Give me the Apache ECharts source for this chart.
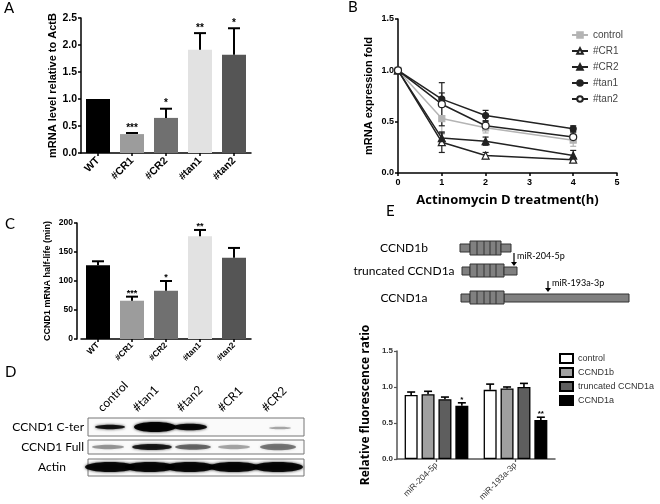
<!DOCTYPE html>
<html><head><meta charset="utf-8">
<script src="https://cdn.jsdelivr.net/npm/echarts/dist/echarts.min.js"></script>
<style>html,body{margin:0;padding:0;background:#fff}#c{width:660px;height:504px}</style>
</head><body><div id="c"></div>
<script>
// ---- Panel A ----
const aCats = ['WT','#CR1','#CR2','#tan1','#tan2'];
const aValues = [1.0, 0.35, 0.65, 1.91, 1.82];
const aErrors = [0, 0.02, 0.17, 0.31, 0.49];
const aStars = ['', '***', '*', '**', '*'];
const barColors = ['#000000', '#9c9c9c', '#707070', '#e2e2e2', '#555555'];

// ---- Panel B ----
const bTimes = [0, 1, 2, 4];
const bNames = ['control', '#CR1', '#CR2', '#tan1', '#tan2'];
const bControl = [1.0, 0.53, 0.44, 0.32];
const bCR1 = [1.0, 0.30, 0.17, 0.13];
const bCR2 = [1.0, 0.34, 0.31, 0.17];
const bTan1 = [1.0, 0.72, 0.56, 0.43];
const bTan2 = [1.0, 0.67, 0.46, 0.35];
const bControlErr = [0, 0.15, 0.05, 0.06];
const bCR1Err = [0, 0.10, 0.03, 0.02];
const bCR2Err = [0, 0.05, 0.04, 0.05];
const bTan1Err = [0, 0.06, 0.05, 0.03];
const bTan2Err = [0, 0.21, 0.04, 0.05];

// ---- Panel C ----
const cCats = ['WT','#CR1','#CR2','#tan1','#tan2'];
const cValues = [127, 66, 83, 177, 140];
const cErrors = [7, 7, 17, 11, 17];
const cStars = ['', '***', '*', '**', ''];

// ---- Panel D ----
const dLanes = ['control', '#tan1', '#tan2', '#CR1', '#CR2'];
const dRows = ['CCND1 C-ter', 'CCND1 Full', 'Actin'];

// ---- Panel E ----
const eGroups = ['miR-204-5p', 'miR-193a-3p'];
const eNames = ['control ', 'CCND1b', 'truncated CCND1a', 'CCND1a'];
const eControl = [0.89, 0.96];
const eCCND1b = [0.90, 0.98];
const eTruncated = [0.83, 1.00];
const eCCND1a = [0.74, 0.54];
const eControlErr = [0.04, 0.08];
const eCCND1bErr = [0.04, 0.02];
const eTruncatedErr = [0.03, 0.05];
const eCCND1aErr = [0.04, 0.04];
const eCCND1aStars = ['*', '**'];
const eConstructs = ['CCND1b', 'truncated CCND1a', 'CCND1a'];

const AR = 'Liberation Sans';
const CAL = 'Lato';

function axisBase(extra){
  return Object.assign({
    axisLine:{show:true, lineStyle:{color:'#000', width:1.5}},
    axisTick:{show:true, length:3, lineStyle:{color:'#000', width:1.5}},
    splitLine:{show:false}
  }, extra);
}
function lbl(size, extra){
  return Object.assign({fontFamily:AR, fontWeight:'bold', fontSize:size, color:'#000'}, extra||{});
}

function barErr(vals, errs, stars, o){
  return function(params, api){
    const i = params.dataIndex;
    const x = api.value(0);
    const b = api.coord([x, vals[i]]);
    const t = api.coord([x, vals[i] + errs[i]]);
    const cx = b[0] + (o.off || 0);
    const ch = [];
    if (errs[i] > 0) {
      ch.push({type:'line', shape:{x1:cx, y1:b[1], x2:cx, y2:t[1]}, style:{stroke:'#000', lineWidth:o.lw}});
      ch.push({type:'line', shape:{x1:cx - o.cap, y1:t[1], x2:cx + o.cap, y2:t[1]}, style:{stroke:'#000', lineWidth:o.lw}});
    }
    if (stars && stars[i]) {
      ch.push({type:'text', style:{text:stars[i], x:cx, y:t[1] + o.sg, align:'center', verticalAlign:'bottom',
        fill:'#000', font:'bold ' + o.fs + 'px "' + AR + '"'}});
    }
    return {type:'group', children:ch};
  };
}

const bSeriesVals = [bControl, bCR1, bCR2, bTan1, bTan2];
const bSeriesErrs = [bControlErr, bCR1Err, bCR2Err, bTan1Err, bTan2Err];
const bColors = ['#b4b4b4', '#222', '#222', '#222', '#222'];
const bSymbols = ['rect', 'triangle', 'triangle', 'circle', 'circle'];
const bFill = ['#b4b4b4', '#fff', '#222', '#222', '#fff'];
const bSizes = [6, 7, 7, 6, 7];

const series = [];
// A
series.push({type:'bar', xAxisIndex:0, yAxisIndex:0, barWidth:24,
  data: aValues.map((v,i)=>({value:v, itemStyle:{color:barColors[i]}}))});
series.push({type:'custom', xAxisIndex:0, yAxisIndex:0, z:5,
  data: aValues.map((v,i)=>[i, v]),
  renderItem: barErr(aValues, aErrors, aStars, {lw:2, cap:6, sg:0, fs:10})});
// B
bNames.forEach((n, k) => {
  series.push({type:'line', name:n, xAxisIndex:1, yAxisIndex:1, z:3,
    data: bTimes.map((t,i)=>[t, bSeriesVals[k][i]]),
    symbol: bSymbols[k], symbolSize: bSizes[k],
    lineStyle:{color:bColors[k], width:1.5},
    itemStyle:{color:bFill[k], borderColor:bColors[k], borderWidth:1.2}});
  series.push({type:'custom', xAxisIndex:1, yAxisIndex:1, z:2,
    data: bTimes.map((t,i)=>[t, bSeriesVals[k][i]]),
    renderItem: function(params, api){
      const i = params.dataIndex;
      const e = bSeriesErrs[k][i];
      if (!e) return null;
      const v = bSeriesVals[k][i];
      const hi = api.coord([api.value(0), v + e]);
      const lo = api.coord([api.value(0), v - e]);
      const st = {stroke:bColors[k], lineWidth:1.2};
      return {type:'group', children:[
        {type:'line', shape:{x1:hi[0], y1:hi[1], x2:lo[0], y2:lo[1]}, style:st},
        {type:'line', shape:{x1:hi[0]-3, y1:hi[1], x2:hi[0]+3, y2:hi[1]}, style:st},
        {type:'line', shape:{x1:lo[0]-3, y1:lo[1], x2:lo[0]+3, y2:lo[1]}, style:st}
      ]};
    }});
});
// C
series.push({type:'bar', xAxisIndex:2, yAxisIndex:2, barWidth:24,
  data: cValues.map((v,i)=>({value:v, itemStyle:{color:barColors[i]}}))});
series.push({type:'custom', xAxisIndex:2, yAxisIndex:2, z:5,
  data: cValues.map((v,i)=>[i, v]),
  renderItem: barErr(cValues, cErrors, cStars, {lw:2, cap:6, sg:1, fs:9})});
// E
const eVals = [eControl, eCCND1b, eTruncated, eCCND1a];
const eErrs = [eControlErr, eCCND1bErr, eTruncatedErr, eCCND1aErr];
const eColors = ['#ffffff', '#a0a0a0', '#5e5e5e', '#000000'];
eNames.forEach((n, k) => {
  series.push({type:'bar', name:n, xAxisIndex:3, yAxisIndex:3, barWidth:13, barGap:'30%',
    data: eVals[k], itemStyle:{color:eColors[k], borderColor:'#000', borderWidth:1.3}});
});
eNames.forEach((n, k) => {
  series.push({type:'custom', xAxisIndex:3, yAxisIndex:3, z:5,
    data: eVals[k].map((v,i)=>[i, v]),
    renderItem: barErr(eVals[k], eErrs[k], k === 3 ? eCCND1aStars : null, {lw:1.6, cap:4, sg:1, fs:8, off:(k - 1.5) * 16.9})});
});

// ---- graphic elements (panel letters, blot, construct diagrams) ----
const g = [];
function txt(t, x, y, font, extra){
  g.push({type:'text', x:x, y:y, style:Object.assign({text:t, font:font, fill:'#000'}, extra||{})});
}
txt('A', 4, 1, '15px "' + CAL + '"');
txt('B', 348, 0, '15px "' + CAL + '"');
txt('C', 5, 217, '15px "' + CAL + '"');
txt('D', 5, 365, '15px "' + CAL + '"');
txt('E', 386, 204, '15px "' + CAL + '"');

const laneX = [104, 139, 183, 224, 268];
dLanes.forEach((l, i) => {
  g.push({type:'text', x:laneX[i], y:414, rotation:Math.PI/4,
    style:{text:l, font:'12px "' + CAL + '"', fill:'#000', align:'left', verticalAlign:'bottom'}});
});
const rowY = [427, 447, 467];
dRows.forEach((r, i) => {
  g.push({type:'text', x: i < 2 ? 84 : 52, y:rowY[i],
    style:{text:r, font:'12px "' + CAL + '"', fill:'#000', align: i < 2 ? 'right' : 'center', verticalAlign:'middle'}});
});
[[418,18],[440,14],[459,17]].forEach(b => {
  g.push({type:'rect', shape:{x:88, y:b[0], width:216, height:b[1]}, style:{fill:'#fafafa', stroke:'#777', lineWidth:1}});
});
function band(cx, cy, rx, ry, op){
  g.push({type:'ellipse', shape:{cx:cx, cy:cy, rx:rx, ry:ry},
    style:{fill:'#000', opacity:op, shadowBlur:3, shadowColor:'rgba(0,0,0,' + op + ')'}});
}
band(110, 427, 15, 2.2, 0.85);
band(155, 427, 21, 5, 0.95);
band(190, 427, 17, 3.3, 0.9);
band(280, 428, 11, 1.3, 0.3);
band(108, 447, 16, 2.2, 0.35);
band(152, 447, 20, 3, 0.8);
band(193, 447, 18, 2.8, 0.5);
band(234, 447, 16, 2.2, 0.3);
band(278, 447, 18, 3.2, 0.45);
[110, 150, 190, 234, 278].forEach(cx => band(cx, 467, 25, 5, 0.9));

const diaY = [248, 271, 298];
eConstructs.forEach((c, i) => {
  g.push({type:'text', x:404, y:diaY[i], style:{text:c, font:'12px "' + CAL + '"', fill:'#000', align:'center', verticalAlign:'middle'}});
});
function box(x, y, w, h){
  g.push({type:'rect', shape:{x:x, y:y, width:w, height:h}, style:{fill:'#808080', stroke:'#333', lineWidth:1}});
}
function exon(x, y, w, h){
  box(x, y, w, h);
  [7, 14, 20, 26].forEach(d => g.push({type:'line', shape:{x1:x+d, y1:y, x2:x+d, y2:y+h}, style:{stroke:'#333', lineWidth:1}}));
}
box(460, 244, 10, 8); exon(470, 241, 31, 14); box(501, 244, 10, 8);
box(462, 267, 8, 8); exon(470, 264, 34, 13); box(504, 267, 13, 8);
box(461, 294, 9, 8); box(504, 294, 125, 8); exon(470, 291, 34, 13);
function arrow(x, y1, y2){
  g.push({type:'line', shape:{x1:x, y1:y1, x2:x, y2:y2 - 3}, style:{stroke:'#000', lineWidth:1.2}});
  g.push({type:'polygon', shape:{points:[[x-3, y2-4],[x+3, y2-4],[x, y2]]}, style:{fill:'#000'}});
}
arrow(514, 253, 266);
arrow(548, 281, 292);
txt('miR-204-5p', 517, 252, '9px "' + CAL + '"');
txt('miR-193a-3p', 552, 279, '9px "' + CAL + '"');

const option = {
  animation:false,
  backgroundColor:'#fff',
  grid:[
    {left:81, top:18, width:170, height:135},
    {left:398, top:19, width:219, height:154},
    {left:81, top:223, width:170, height:116},
    {left:397, top:351, width:158, height:108}
  ],
  xAxis:[
    axisBase({type:'category', gridIndex:0, data:aCats, axisTick:{show:true, alignWithLabel:true, length:3, lineStyle:{color:'#000', width:1.5}},
      axisLabel:lbl(10.5, {rotate:45, margin:6})}),
    axisBase({type:'value', gridIndex:1, min:0, max:5, interval:1, axisLabel:lbl(9, {margin:5}),
      name:'Actinomycin D treatment(h)', nameLocation:'middle', nameGap:21,
      nameTextStyle:{fontFamily:'Open Sans', fontWeight:'bold', fontSize:13, color:'#000'}}),
    axisBase({type:'category', gridIndex:2, data:cCats, axisTick:{show:true, alignWithLabel:true, length:3, lineStyle:{color:'#000', width:1.5}},
      axisLabel:lbl(8.5, {rotate:45, margin:5})}),
    axisBase({type:'category', gridIndex:3, data:eGroups, axisTick:{show:true, alignWithLabel:true, length:3, lineStyle:{color:'#555', width:1.2}},
      axisLine:{show:true, lineStyle:{color:'#555', width:1.5}},
      axisLabel:{rotate:45, margin:5, fontFamily:AR, fontSize:8.5, color:'#333'}})
  ],
  yAxis:[
    axisBase({type:'value', gridIndex:0, min:0, max:2.5, interval:0.5,
      axisLabel:lbl(10.5, {margin:4, formatter:v=>v.toFixed(1)}),
      name:'mRNA level relative to ActB', nameLocation:'middle', nameGap:21, nameRotate:90,
      nameTextStyle:{fontFamily:AR, fontWeight:'bold', fontSize:11, color:'#000'}}),
    axisBase({type:'value', gridIndex:1, min:0, max:1.5, interval:0.5,
      axisLabel:lbl(9, {margin:4, formatter:v=>v.toFixed(1)}),
      name:'mRNA expression fold', nameLocation:'middle', nameGap:24, nameRotate:90,
      nameTextStyle:{fontFamily:AR, fontWeight:'bold', fontSize:11, color:'#000'}}),
    axisBase({type:'value', gridIndex:2, min:0, max:200, interval:50, offset:4,
      axisLabel:lbl(8.5, {margin:4}),
      name:'CCND1 mRNA half-life (min)', nameLocation:'middle', nameGap:25, nameRotate:90,
      nameTextStyle:{fontFamily:AR, fontWeight:'bold', fontSize:9, color:'#000'}}),
    axisBase({type:'value', gridIndex:3, min:0, max:1.5, interval:0.5,
      axisLine:{show:true, lineStyle:{color:'#555', width:1.5}},
      axisTick:{show:true, length:3, lineStyle:{color:'#555', width:1.2}},
      axisLabel:lbl(8, {margin:4, color:'#333', formatter:v=>v.toFixed(1)}),
      name:'Relative fluorescence ratio', nameLocation:'middle', nameGap:25, nameRotate:90,
      nameTextStyle:{fontFamily:'Open Sans', fontWeight:'bold', fontSize:12, color:'#000'}})
  ],
  legend:[
    {data:bNames, orient:'vertical', left:566, top:25, itemWidth:16, itemHeight:7, itemGap:6,
      textStyle:{fontFamily:AR, fontSize:10, color:'#444'}},
    {data:eNames, orient:'vertical', left:559, top:353, itemWidth:13, itemHeight:9, itemGap:3, icon:'rect',
      padding:0, textStyle:{fontFamily:AR, fontSize:9, color:'#333'}}
  ],
  series: series,
  graphic: g
};
const chart = echarts.init(document.getElementById('c'), null, {renderer:'canvas'});
chart.setOption(option);
</script></body></html>
